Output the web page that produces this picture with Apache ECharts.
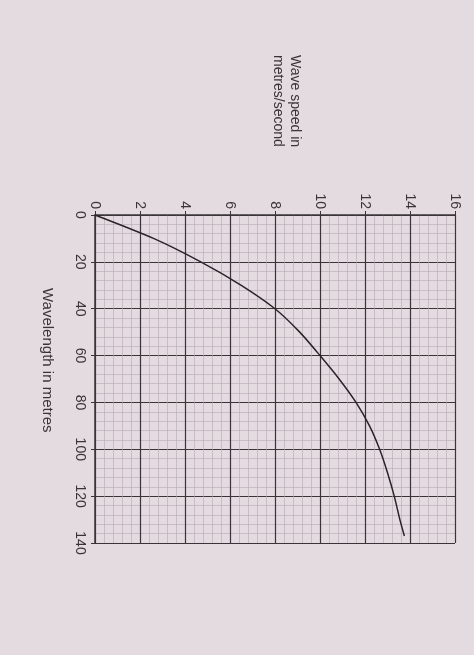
<!DOCTYPE html><html><head><meta charset="utf-8"><script src="https://cdn.jsdelivr.net/npm/echarts@6/dist/echarts.min.js"></script>
<style>html,body{margin:0;background:#e4dbe1}#c{width:474px;height:655px}</style></head><body><div id="c"></div><script>
const wavelength=[0,10,20,30,40,50,60,70,80,90,100,110,120,130,137];
const speed=[0,2.6,4.7,6.5,8.0,9.1,10.0,10.85,11.6,12.2,12.65,13.0,13.3,13.55,13.75];
const c=echarts.init(document.getElementById('c'));
const ink='#3a3438';
c.setOption({backgroundColor:'#e4dbe1',animation:false,
grid:{left:95,right:19,top:215,bottom:112},
xAxis:{type:'value',position:'top',min:0,max:16,interval:2,
 axisLine:{lineStyle:{color:ink,width:1.5}},axisTick:{show:true,length:4,lineStyle:{color:ink}},
 axisLabel:{rotate:-90,color:ink,fontSize:14,fontFamily:'Liberation Sans',margin:6},
 splitLine:{lineStyle:{color:ink,width:1.2}},
 minorTick:{show:false,splitNumber:5},minorSplitLine:{show:true,lineStyle:{color:'#b5aab2',width:0.6}}},
yAxis:{type:'value',inverse:true,min:0,max:140,interval:20,
 axisLine:{lineStyle:{color:ink,width:1.5}},axisTick:{show:true,length:4,lineStyle:{color:ink}},
 axisLabel:{rotate:-90,color:ink,fontSize:14,fontFamily:'Liberation Sans',margin:8},
 splitLine:{lineStyle:{color:ink,width:1.2}},
 minorTick:{show:false,splitNumber:5},minorSplitLine:{show:true,lineStyle:{color:'#b5aab2',width:0.6}}},
series:[{type:'line',data:wavelength.map((w,i)=>[speed[i],w]),smooth:0.25,showSymbol:false,lineStyle:{color:'#2a2428',width:1.5}}],
graphic:[
 {type:'text',x:303,y:55,rotation:-Math.PI/2,style:{text:'Wave speed in\nmetres/second',fill:ink,font:'14px Liberation Sans',lineHeight:17}},
 {type:'text',x:55,y:288,rotation:-Math.PI/2,style:{text:'Wavelength in metres',fill:ink,font:'15px Liberation Sans'}}
]});
</script></body></html>
